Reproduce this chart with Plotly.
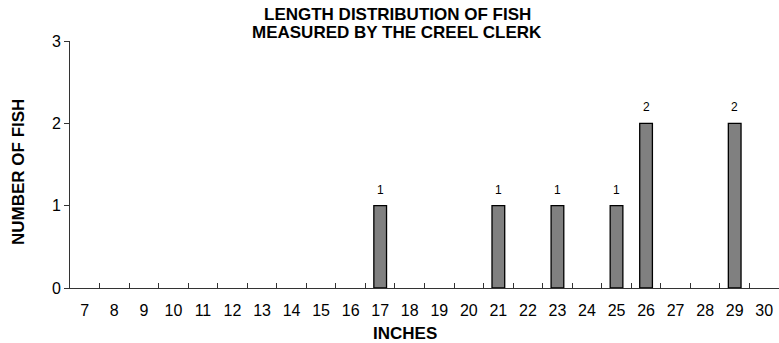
import plotly.graph_objects as go

inches = [str(i) for i in range(7, 31)]
counts = [0, 0, 0, 0, 0, 0, 0, 0, 0, 0, 1, 0, 0, 0, 1, 0, 1, 0, 1, 2, 0, 0, 2, 0]
y_ticks = [0, 1, 2, 3]
title_lines = ["LENGTH DISTRIBUTION OF FISH", "MEASURED BY THE CREEL CLERK"]
x_title = "INCHES"
y_title = "NUMBER OF FISH"

FONT = "Arial, Liberation Sans, sans-serif"
L, R, T, B, W, H = 70, 0, 41, 55, 779, 343
PW, PH = W - L - R, H - T - B

def px_x(p):
    return (p - L) / PW

def px_y(p):
    return (H - B - p) / PH

fig = go.Figure(go.Bar(
    x=inches, y=counts,
    marker=dict(color="#808080",
                line=dict(color="black", width=[1.3 if c > 0 else 0 for c in counts])),
    width=0.43, cliponaxis=False,
))

annotations = []
# value labels above bars (x given as category index on the category axis)
for idx, c in enumerate(counts):
    if c > 0:
        annotations.append(dict(
            text=str(c), x=idx, y=c, xref="x", yref="y",
            yshift=16, xanchor="center", yanchor="middle", showarrow=False,
            font=dict(size=12, family=FONT, color="black"),
        ))
for line, py in zip(title_lines, [15, 32.5]):
    annotations.append(dict(
        text=f"<b>{line}</b>", xref="paper", yref="paper",
        x=px_x(397), y=px_y(py), xanchor="center", yanchor="middle",
        showarrow=False, font=dict(size=17, family=FONT, color="black"),
    ))
annotations.append(dict(
    text=f"<b>{x_title}</b>", xref="paper", yref="paper",
    x=px_x(405), y=px_y(333), xanchor="center", yanchor="middle",
    showarrow=False, font=dict(size=17, family=FONT, color="black"),
))
annotations.append(dict(
    text=f"<b>{y_title}</b>", xref="paper", yref="paper", textangle=-90,
    x=px_x(18.5), y=px_y(172.5), xanchor="center", yanchor="middle",
    showarrow=False, font=dict(size=17, family=FONT, color="black"),
))

fig.update_layout(
    width=W, height=H,
    margin=dict(l=L, r=R, t=T, b=B),
    paper_bgcolor="white", plot_bgcolor="white",
    font=dict(family=FONT, color="black"),
    showlegend=False,
    annotations=annotations,
    xaxis=dict(
        type="category", categoryorder="array", categoryarray=inches,
        range=[-0.5, 23.5],
        showline=True, linecolor="#333333", linewidth=1,
        ticks="inside", tickson="boundaries", ticklen=5, tickcolor="#333333", tickwidth=1,
        tickfont=dict(size=16, family=FONT, color="black"),
        ticklabelstandoff=8,
        showgrid=False, zeroline=False,
    ),
    yaxis=dict(
        range=[0, 3], tickvals=y_ticks,
        showline=True, linecolor="#333333", linewidth=1,
        ticks="outside", ticklen=5, tickcolor="#333333",
        tickfont=dict(size=16, family=FONT, color="black"),
        showgrid=False, zeroline=False,
    ),
)

fig.write_html("out.html")
